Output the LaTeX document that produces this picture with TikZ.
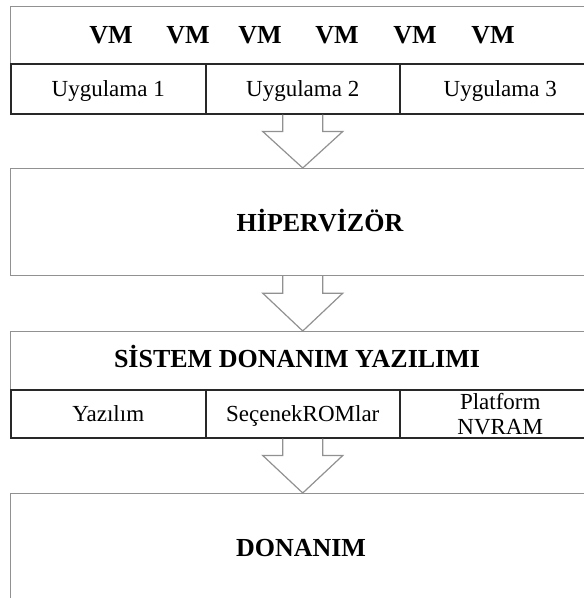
\documentclass[tikz,border=0pt]{standalone}
\usepackage{fontspec}
\setmainfont{Liberation Serif}
\usetikzlibrary{positioning, calc}

\definecolor{framegray}{RGB}{145,145,145}
\definecolor{celldark}{RGB}{40,40,40}

\tikzset{
    layerbox/.style={draw=framegray, line width=1.2pt, inner sep=0pt, anchor=north west, minimum width=590},
    cellbox/.style={draw=celldark, line width=1.5pt, inner sep=0pt, anchor=north west,
        text depth=0pt, align=center, font=\fontsize{23}{25}\selectfont},
    heading/.style={inner sep=0pt, anchor=base, font=\fontsize{26}{28}\selectfont\bfseries},
    blockarrow/.style={draw=framegray, line width=1.2pt, line join=miter},
}

% hollow down arrow from a point to the top of the next layer
\newcommand{\layerarrow}[2]{%
    \draw[blockarrow] ($(#1)+(-20,0)$) -- ++(0,17) -- ++(-20,0) -- (#1 |- #2)
        -- ($(#1)+(40,17)$) -- ++(-20,0) -- ++(0,-17);
}

\begin{document}
\begin{tikzpicture}[x=1pt, y=-1pt]

% Page frame
\useasboundingbox (0,0) rectangle (584,598);
\clip (0,0) rectangle (584,598);

% Virtual machines
\node[layerbox, minimum height=57] (vmrow) at (10,6) {};
\foreach \x [count=\i] in {111,188,260,337,415,493} {
    \node[heading] (vm\i) at (\x,43) {VM};
}

% Applications
\node[cellbox, minimum width=195, minimum height=50] (app1) at (10,63) {Uygulama 1};
\node[cellbox, minimum width=194, minimum height=50] (app2) at (205,63) {Uygulama 2};
\node[cellbox, minimum width=201, minimum height=50] (app3) at (399,63) {Uygulama 3};

% Hypervisor
\node[layerbox, minimum height=107] (hyp) at (10,168) {};
\node[heading] (hyplabel) at (320,231) {HİPERVİZÖR};

% System firmware
\node[layerbox, minimum height=58] (fw) at (10,331) {};
\node[heading] (fwlabel) at (297,367) {SİSTEM DONANIM YAZILIMI};
\node[cellbox, minimum width=195, minimum height=48] (sw) at (10,389) {Yazılım};
\node[cellbox, minimum width=194, minimum height=48] (rom) at (205,389) {SeçenekROMlar};
\node[cellbox, minimum width=201, minimum height=48] (nvram) at (399,389) {Platform\\NVRAM};

% Hardware
\node[layerbox, minimum height=130] (hw) at (10,493) {};
\node[heading] (hwlabel) at (301,556) {DONANIM};

% Arrows between layers
\coordinate (hypout) at (app2.south |- hyp.south);
\layerarrow{app2.south}{hyp.north}
\layerarrow{hypout}{fw.north}
\layerarrow{rom.south}{hw.north}

\end{tikzpicture}
\end{document}
